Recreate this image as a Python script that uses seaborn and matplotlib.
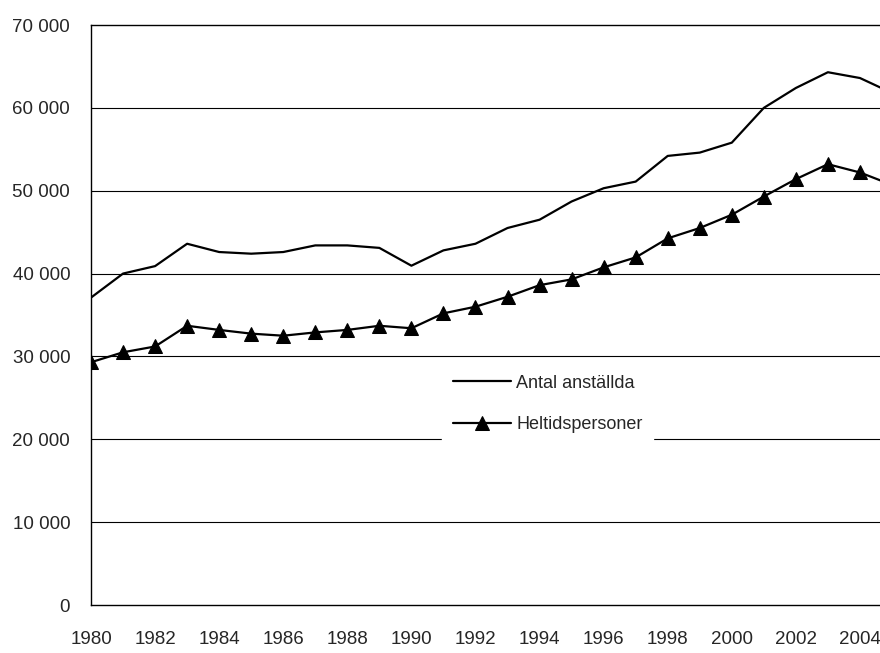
import numpy as np
import pandas as pd
import seaborn as sns
import matplotlib.pyplot as plt
from matplotlib.ticker import FuncFormatter

years = list(range(1980, 2006))
antal = [37100, 40000, 40900, 43600, 42600, 42400, 42600, 43400, 43400, 43100,
         40950, 42800, 43600, 45500, 46500, 48700, 50300, 51100, 54200, 54600,
         55800, 60000, 62400, 64300, 63600, 61800]
heltid = [29300, 30500, 31200, 33700, 33200, 32750, 32500, 32900, 33200, 33700,
          33400, 35200, 36000, 37200, 38600, 39300, 40750, 41950, 44250, 45500,
          47100, 49300, 51400, 53200, 52200, 50700]
yticks = [0, 10000, 20000, 30000, 40000, 50000, 60000, 70000]
xticks = list(range(1980, 2005, 2))

sns.set_style("white")
plt.rcParams['font.family'] = ['Liberation Sans Narrow', 'Liberation Sans', 'DejaVu Sans']

fig = plt.figure(figsize=(8.8, 6.53), dpi=100)
ax = fig.add_axes([91 / 880, 48 / 653, 1 - 91 / 880, 580 / 653])

df = pd.DataFrame({'year': years, 'Antal anställda': antal, 'Heltidspersoner': heltid})

sns.lineplot(data=df, x='year', y='Antal anställda', ax=ax, color='black',
             linewidth=1.6, label='Antal anställda')
sns.lineplot(data=df, x='year', y='Heltidspersoner', ax=ax, color='black',
             linewidth=1.6, marker='^', markersize=10, markeredgecolor='black',
             label='Heltidspersoner')

# grid
for v in yticks[1:-1]:
    ax.axhline(v, color='black', linewidth=0.8, zorder=0)

ax.set_xlim(1980, 1980 + 789 / 32.04)
ax.set_ylim(0, 70000)
ax.set_xticks(xticks)
ax.set_yticks(yticks)
ax.yaxis.set_major_formatter(FuncFormatter(lambda v, p: f"{int(v):,}".replace(',', ' ')))
ax.tick_params(axis='both', length=0, labelsize=13.5)
ax.tick_params(axis='y', pad=15)
ax.tick_params(axis='x', pad=19)
ax.set_xlabel('')
ax.set_ylabel('')

for s in ['left', 'bottom', 'top']:
    ax.spines[s].set_visible(True)
    ax.spines[s].set_color('black')
    ax.spines[s].set_linewidth(1.0)
ax.spines['right'].set_visible(False)

leg = ax.legend(loc='center', bbox_to_anchor=(0.579, 0.347), frameon=True,
                fontsize=13, handlelength=3.2, handletextpad=0.3,
                labelspacing=1.35, borderpad=0.6, fancybox=False)
leg.get_frame().set_facecolor('white')
leg.get_frame().set_edgecolor('white')
leg.get_frame().set_alpha(1)

fig.savefig('out.png', dpi=100)
